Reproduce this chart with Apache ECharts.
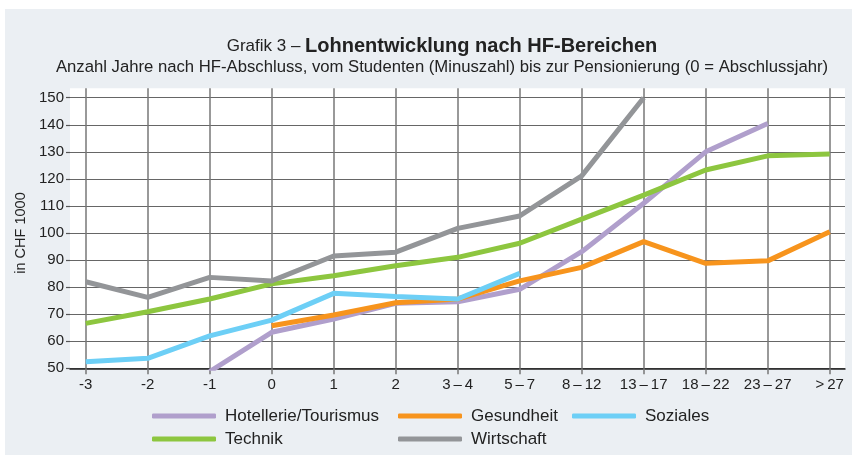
<!DOCTYPE html>
<html>
<head>
<meta charset="utf-8">
<script src="https://cdn.jsdelivr.net/npm/echarts@6/dist/echarts.min.js"></script>
<style>
html,body{margin:0;padding:0;background:#fff;}
#chart{width:852px;height:455px;}
</style>
</head>
<body>
<div id="chart"></div>
<script>
const categories = ['-3','-2','-1','0','1','2','3\u2009–\u20094','5\u2009–\u20097','8\u2009–\u200912','13\u2009–\u200917','18\u2009–\u200922','23\u2009–\u200927','>\u200927'];
const yTicks = [50,60,70,80,90,100,110,120,130,140,150];
const hotellerie = [null,null,48.8,63.3,68.2,74.0,74.6,79.2,93.1,111.0,130.0,140.5,null];
const gesundheit = [null,null,null,65.7,69.7,74.2,75.6,82.3,87.3,96.8,88.8,89.7,100.5];
const soziales   = [52.4,53.7,62.0,67.8,77.7,76.5,75.6,85.1,null,null,null,null,null];
const technik    = [66.6,70.9,75.6,81.2,84.2,87.9,91.0,96.2,105.1,114.0,123.3,128.5,129.2];
const wirtschaft = [82.0,76.2,83.6,82.3,91.5,92.9,101.7,106.3,121.1,150.0,null,null,null];

const seriesNames = ['Hotellerie/Tourismus','Gesundheit','Soziales','Technik','Wirtschaft'];
const seriesData = [hotellerie, gesundheit, soziales, technik, wirtschaft];
const colors = ['#b09fcc','#f7941d','#6dcff6','#8dc63f','#939598'];

const FONT = '"Liberation Sans", Arial, sans-serif';
const chart = echarts.init(document.getElementById('chart'), null, {renderer:'canvas'});

const legendPos = [
  {left:147, top:401},
  {left:393, top:401},
  {left:567, top:401},
  {left:147, top:424},
  {left:393, top:424}
];

const option = {
  animation:false,
  backgroundColor:'#ffffff',
  graphic:[{type:'rect', shape:{x:5,y:9,width:847,height:446}, style:{fill:'#ebeff3'}, z:-10, silent:true}],
  title:{
    left:437, top:31, textAlign:'center',
    text:'{a|Grafik 3 – }{b|Lohnentwicklung nach HF-Bereichen}',
    textStyle:{rich:{
      a:{fontFamily:FONT,fontSize:17,fontWeight:'normal',color:'#222'},
      b:{fontFamily:FONT,fontSize:20,fontWeight:'bold',color:'#222'}
    }},
    subtext:'Anzahl Jahre nach HF-Abschluss, vom Studenten (Minuszahl) bis zur Pensionierung (0 = Abschlussjahr)',
    subtextStyle:{fontFamily:FONT,fontSize:16.7,color:'#222'},
    itemGap:3
  },
  legend: seriesNames.map((n,i)=>({
    data:[n], left:legendPos[i].left, top:legendPos[i].top,
    icon:'roundRect', itemWidth:64, itemHeight:5,
    textStyle:{fontFamily:FONT,fontSize:17,color:'#222',padding:[0,0,0,4],lineHeight:20},
    selectedMode:false
  })),
  grid:[
    {left:70, right:7, top:88.3, bottom:86.7, show:true, backgroundColor:'#fff', borderWidth:0},
    {left:70, right:7, top:97.7, bottom:86.7, show:false},
    {left:85.7, right:22.3, top:88.3, bottom:86.7, show:false}
  ],
  xAxis:[
    {gridIndex:0, type:'value', show:false, min:0, max:1},
    {gridIndex:1, type:'value', min:0, max:1, axisLine:{show:true,onZero:false,lineStyle:{color:'#222',width:1.5}}, axisTick:{show:false}, axisLabel:{show:false}, splitLine:{show:false}},
    {gridIndex:2, type:'category', data:categories, boundaryGap:false,
     axisLine:{show:false}, axisTick:{show:true,interval:0,length:6,lineStyle:{color:'#777',width:1.5}},
     axisLabel:{interval:0,fontFamily:FONT,fontSize:15,color:'#222',margin:9},
     splitLine:{show:true,interval:0,lineStyle:{color:'#777',width:1.5}}}
  ],
  yAxis:[
    {gridIndex:0, type:'value', show:false, min:0, max:1},
    {gridIndex:1, type:'value', min:yTicks[0], max:yTicks[yTicks.length-1], interval:10,
     axisLine:{show:false}, axisTick:{show:true,length:4,lineStyle:{color:'#555',width:1.2}},
     axisLabel:{fontFamily:FONT,fontSize:15,color:'#222',margin:6},
     splitLine:{show:true,lineStyle:{color:'#666',width:1.2}},
     name:'in CHF 1000', nameLocation:'middle', nameGap:34, nameRotate:90,
     nameTextStyle:{fontFamily:FONT,fontSize:14.5,color:'#222'}},
    {gridIndex:2, type:'value', show:false, min:50, max:153.47}
  ],
  series: seriesNames.map((n,i)=>({
    name:n, type:'line', xAxisIndex:2, yAxisIndex:2,
    data:seriesData[i], symbol:'none', connectNulls:false,
    lineStyle:{color:colors[i], width:5}, itemStyle:{color:colors[i]},
    clip:true, z:2+i
  }))
};
chart.setOption(option);
</script>
</body>
</html>
